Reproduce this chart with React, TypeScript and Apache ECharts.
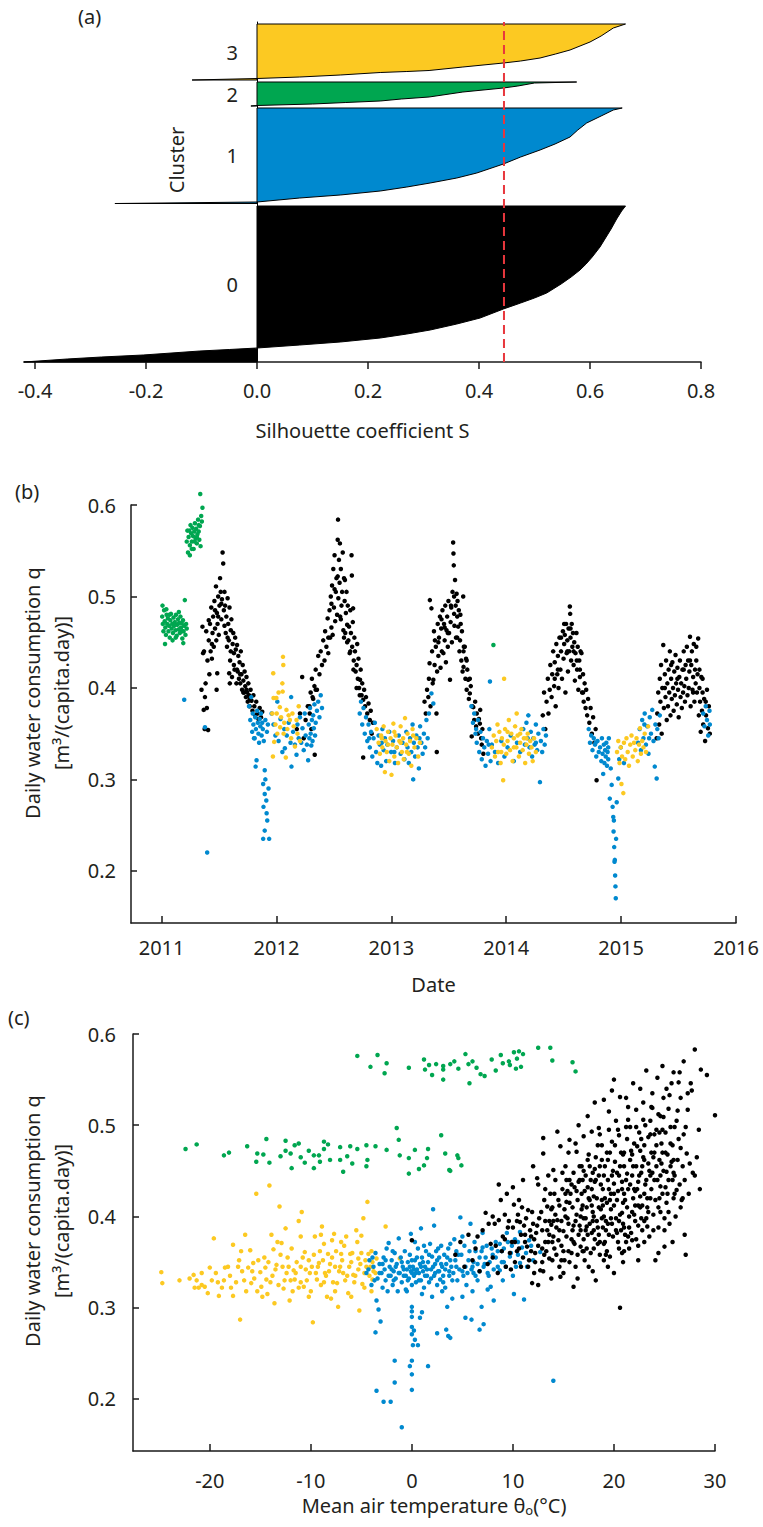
import React, { useEffect, useRef } from "react";
import * as echarts from "echarts";

// ---------------- Panel (a): silhouette profiles [S, rank position] ----------------
const clusterNames = ["0", "1", "2", "3"];
const clusterColors = ["#000000", "#0089cf", "#00a650", "#fcc922"];
const silhouette0 = [[0.664,156],[0.657,151],[0.648,143],[0.638,133],[0.628,124],[0.618,115],[0.604,105],[0.593,98],[0.582,92],[0.566,85],[0.548,78],[0.522,69],[0.50,64],[0.475,59],[0.444,53],[0.402,44],[0.36,38],[0.312,32],[0.27,28],[0.222,24],[0.15,20],[0.077,17],[0.0,14],[-0.05,12.5],[-0.103,11],[-0.205,7],[-0.28,5],[-0.342,3],[-0.42,0]];
const silhouette1 = [[0.658,254],[0.642,252],[0.62,246],[0.594,239],[0.578,232],[0.564,225],[0.537,218],[0.51,212],[0.475,205],[0.444,198],[0.396,189],[0.36,184],[0.312,179],[0.27,175],[0.222,171],[0.15,167],[0.077,164],[0.0,160],[-0.256,158.5]];
const silhouette2 = [[0.576,280],[0.50,279],[0.47,276],[0.444,274],[0.371,270],[0.31,265],[0.26,263],[0.222,261],[0.16,259.5],[0.10,258],[0.0,256.5],[-0.011,256]];
const silhouette3 = [[0.664,338],[0.642,334],[0.62,326],[0.60,320],[0.582,316],[0.564,312],[0.538,308],[0.51,304],[0.475,301],[0.444,299],[0.371,295],[0.31,291.5],[0.27,290.5],[0.222,289.5],[0.15,287],[0.077,285],[0.0,283.5],[-0.117,282]];
const meanSilhouette = 0.445;
const silhouetteTicks = [-0.4, -0.2, 0, 0.2, 0.4, 0.6, 0.8];

// ---------------- Panel (b): [day since 2011-01-01, q in L/(capita.day)] ----------------
const dateCluster0 = [
[127,398],[130,467],[132,438],[134,376],[135,440],[137,355],[138,390],[140,405],[142,462],[144,378],[146,430],[148,354],[150,452],[152,415],[154,470],[156,440],[158,488],[160,432],[162,460],[164,478],[166,445],[168,495],[170,465],[173,511],[174,452],[175,398],[176,482],[177,416],[178,470],[180,500],[182,458],[184,490],[186,520],[188,505],[190,475],[192,497],[194,548],[196,536],[198,485],[200,505],[202,490],[204,460],[206,478],[208,445],[210,498],[212,470],[214,452],[215,416],[216,488],[217,405],[218,430],[220,463],[222,475],[224,412],[226,448],[228,460],[230,438],[232,420],[234,455],[236,442],[238,405],[240,447],[242,418],[244,435],[246,410],[248,428],[250,405],[252,440],[254,415],[256,398],[258,425],[260,408],[262,395],[264,418],[266,402],[268,390],[270,412],[272,395],[274,385],[276,405],[278,392],[280,380],[283,398],[286,386],[289,375],[292,392],[295,380],[298,370],[301,385],[305,372],[308,366],[312,378],[316,368],[320,374],
[150,474],[160,448],[170,485],[180,478],[190,492],[200,468],[210,455],[220,440],[230,425],[240,420],[250,415],[260,395],[270,398],[280,388],
[430,355],[440,372],[447,412],[452,345],[458,365],[465,380],[471,372],[476,355],[480,390],[487,327],[490,398],
[470,380],[474,395],[478,410],[482,388],[486,402],[490,420],[494,398],[498,435],[502,415],[506,440],[510,425],[514,452],[518,430],[520,462],[524,445],[528,476],[530,438],[534,485],[536,455],[538,500],[540,466],[542,512],[544,458],[546,530],[548,488],[550,545],[552,473],[554,505],[556,520],[558,480],[560,562],[561,584],[562,498],[564,540],[566,515],[567,558],[568,478],[570,530],[572,490],[574,505],[576,548],[578,463],[580,520],[582,495],[583,518],[584,460],[586,482],[588,505],[590,450],[592,490],[594,452],[596,467],[598,438],[600,485],[602,460],[604,545],[605,523],[606,445],[608,472],[609,487],[611,430],[613,455],[615,440],[617,418],[620,425],[622,448],[624,410],[626,432],[628,400],[631,409],[633,420],[636,392],[638,405],[641,387],[644,398],[647,380],[650,390],[654,372],[658,383],[662,365],[665,375],[668,350],[672,362],[641,324],
[530,455],[540,492],[550,508],[560,522],[570,475],[580,455],[590,469],[600,440],[610,420],[620,400],[630,392],
[836,385],[840,372],[844,398],[848,390],[850,410],[852,427],[853,496],[855,380],[858,487],[860,440],[862,405],[864,409],[866,462],[868,425],[869,452],[872,445],[874,372],[875,330],[876,418],[878,470],[880,435],[882,455],[885,478],[887,422],[889,465],[891,440],[893,485],[896,438],[898,470],[900,452],[902,490],[904,428],[906,463],[908,478],[910,445],[912,495],[914,460],[917,409],[919,472],[921,488],[923,450],[925,505],[927,559],[928,547],[929,534],[930,481],[931,468],[933,518],[935,490],[936,455],[938,503],[940,478],[941,495],[943,467],[945,485],[947,440],[949,452],[951,470],[953,430],[955,462],[957,418],[959,500],[960,423],[961,445],[964,445],[966,410],[968,432],[970,398],[972,420],[975,409],[977,388],[980,394],[983,402],[986,347],[988,380],[991,379],[994,365],[997,385],[1000,358],[1002,372],[1006,350],[1009,366],[1012,361],[1013,376],[1016,345],[1020,355],[1023,328],[1018,338],
[880,450],[890,475],[900,466],[910,460],[920,490],[930,500],[940,455],[950,480],[960,440],[970,430],[980,410],
[1212,370],[1216,395],[1220,355],[1224,385],[1228,410],[1230,372],[1234,398],[1236,425],[1240,390],[1242,415],[1245,440],[1248,402],[1250,428],[1253,380],[1255,448],[1258,415],[1260,435],[1262,400],[1265,455],[1268,420],[1270,440],[1273,410],[1276,462],[1278,432],[1280,448],[1282,458],[1284,395],[1286,470],[1288,438],[1290,452],[1292,418],[1294,465],[1296,440],[1298,489],[1299,481],[1300,455],[1302,430],[1304,470],[1306,445],[1308,460],[1310,425],[1312,450],[1314,408],[1316,438],[1319,460],[1321,420],[1323,445],[1325,398],[1328,430],[1330,412],[1332,440],[1335,438],[1337,395],[1340,415],[1342,385],[1345,405],[1348,378],[1350,398],[1353,370],[1356,388],[1360,362],[1364,378],[1368,350],[1372,368],[1376,340],[1380,355],[1383,299],
[1250,410],[1260,420],[1270,455],[1280,470],[1290,440],[1300,465],[1310,440],[1320,430],[1330,420],[1340,395],
[1574,345],[1576,372],[1579,395],[1582,360],[1584,410],[1586,385],[1588,425],[1590,350],[1592,400],[1595,447],[1597,378],[1600,415],[1602,390],[1604,430],[1606,365],[1608,405],[1610,380],[1612,420],[1614,395],[1616,440],[1618,370],[1620,410],[1622,388],[1624,428],[1626,400],[1628,375],[1630,418],[1632,392],[1634,436],[1636,405],[1638,382],[1640,422],[1642,398],[1644,368],[1646,412],[1648,430],[1650,390],[1652,405],[1654,378],[1656,420],[1658,395],[1660,440],[1662,402],[1664,385],[1666,425],[1668,410],[1670,445],[1672,392],[1674,430],[1676,400],[1678,418],[1680,456],[1682,380],[1684,425],[1686,440],[1688,398],[1690,412],[1692,448],[1694,385],[1696,420],[1698,405],[1700,430],[1702,395],[1704,415],[1706,454],[1708,370],[1710,400],[1712,385],[1714,352],[1716,412],[1718,375],[1720,395],[1722,360],[1725,388],[1728,342],[1731,370],[1734,398],[1737,356],[1740,380],[1743,350],
[1600,400],[1620,425],[1640,410],[1660,420],[1680,430],[1690,395],[1700,445],[1710,420],[1720,410],[1730,385]
];
const dateCluster1 = [
[72,387],[138,357],[145,220],
[278,380],[282,365],[285,390],[288,352],[290,372],[292,360],[294,345],[296,345],[298,368],[299,314],[300,355],[302,321],[304,375],[306,362],[308,350],[310,340],[312,366],[314,358],[316,372],[318,348],[320,362],[322,355],[323,295],[324,270],[323,235],[325,342],[328,310],[328,284],[328,244],[330,365],[333,277],[334,263],[335,352],[336,255],[338,360],[342,235],[340,290],[330,300],
[350,372],[356,360],[362,348],[368,385],[372,342],[378,366],[384,330],[390,355],[392,334],[398,348],[404,362],[410,340],[412,390],[413,314],[418,352],[424,338],[429,327],[432,360],[436,345],[440,368],[444,340],[448,356],[452,332],[455,372],[458,348],[462,338],[466,321],[468,360],[470,345],[472,378],[474,350],[476,337],[478,365],[480,342],[482,370],[484,356],[486,382],[488,348],[490,362],[494,375],[498,385],[502,368],[506,392],[510,378],
[630,372],[634,385],[638,360],[642,378],[646,350],[650,368],[654,342],[658,360],[662,335],[666,352],[670,325],[674,345],[678,362],[682,330],[686,318],[690,348],[694,338],[698,315],[702,355],[706,332],[710,345],[714,320],[718,338],[724,352],[730,330],[736,342],[742,318],[748,335],[754,348],[760,328],[766,340],[772,322],[778,352],[782,335],[786,318],[790,345],[794,330],[798,360],[802,340],[806,325],[810,348],[814,335],[818,312],[822,358],[826,340],[830,328],[834,350],[838,335],[842,365],[846,345],[850,372],[858,394],[864,383],[800,300],
[660,345],[700,340],[740,330],[820,345],
[985,380],[990,362],[994,372],[998,350],[1002,340],[1006,365],[1010,330],[1014,352],[1018,322],[1022,345],[1026,335],[1030,315],[1034,342],[1038,328],[1042,355],[1044,407],[1046,320],[1050,338],[1060,330],[1070,318],[1080,342],[1090,325],[1100,335],[1110,348],[1120,320],[1130,340],[1140,330],[1150,355],[1155,338],[1160,362],[1164,345],[1166,370],[1170,335],[1174,352],[1178,325],[1182,345],[1186,338],[1190,360],[1194,332],[1198,350],[1203,297],[1206,342],[1210,330],[1214,355],[1218,338],[1222,348],
[1000,355],[1040,338],[1190,340],
[1358,355],[1362,340],[1366,348],[1370,332],[1374,345],[1378,338],[1382,325],[1386,342],[1390,330],[1394,335],[1398,320],[1400,345],[1402,328],[1404,306],[1406,338],[1408,318],[1410,332],[1412,325],[1414,340],[1416,315],[1418,330],[1420,322],[1422,345],[1425,279],[1428,312],[1431,294],[1434,270],[1436,259],[1437,243],[1438,255],[1439,226],[1441,212],[1440,210],[1442,195],[1443,183],[1444,170],[1445,235],[1447,275],[1452,301],[1455,322],[1460,335],[1470,318],
[1380,340],[1420,335],
[1515,340],[1520,355],[1524,332],[1528,365],[1532,345],[1536,372],[1540,338],[1544,358],[1548,328],[1552,368],[1556,350],[1560,376],[1564,342],[1568,314],[1570,360],[1574,301],[1576,355],[1580,345],[1584,370],[1535,360],[1550,345],
[1722,372],[1726,358],[1730,380],[1734,365],[1738,348],[1742,375],[1743,360]
];
const dateCluster2 = [
[2,478],[3,490],[4,470],[6,462],[8,485],[10,473],[11,448],[12,466],[14,458],[15,486],[16,480],[18,470],[20,476],[22,462],[24,468],[25,480],[26,455],[28,474],[30,481],[32,465],[34,470],[35,452],[36,460],[38,477],[40,468],[42,472],[44,463],[45,455],[46,480],[48,457],[50,469],[52,475],[54,464],[55,483],[56,471],[58,460],[60,478],[62,466],[64,471],[65,462],[66,454],[68,474],[69,449],[70,462],[72,468],[74,496],[76,458],[78,470],[80,465],
[80,560],[82,572],[84,548],[86,565],[88,572],[90,556],[90,545],[92,578],[94,569],[96,560],[96,552],[98,575],[100,566],[102,552],[104,571],[105,560],[106,580],[108,563],[110,574],[112,558],[112,565],[114,568],[116,584],[118,571],[118,578],[120,562],[122,577],[123,612],[124,555],[126,588],[128,582],[130,597],
[1055,447]
];
const dateCluster3 = [
[352,372],[355,416],[356,389],[354,325],[358,341],[362,360],[365,389],[366,372],[368,350],[372,395],[376,379],[377,357],[380,368],[384,405],[386,434],[387,425],[385,396],[388,350],[390,362],[395,324],[397,376],[400,355],[404,370],[408,365],[412,345],[416,372],[420,358],[424,336],[429,365],[432,350],[436,380],[440,342],
[684,355],[690,340],[694,328],[698,348],[702,335],[706,358],[710,308],[712,342],[716,330],[720,352],[724,320],[728,345],[731,305],[734,338],[737,361],[740,325],[744,348],[748,335],[752,318],[756,342],[760,358],[764,330],[768,345],[770,322],[774,367],[778,338],[782,350],[786,328],[790,342],[794,315],[798,355],[804,335],[810,345],[816,325],[821,340],
[700,345],[720,338],[740,352],[760,340],[780,330],[800,348],
[1050,335],[1056,348],[1060,325],[1064,342],[1068,360],[1070,330],[1074,352],[1078,318],[1082,345],[1086,299],[1088,338],[1089,410],[1092,355],[1096,328],[1100,342],[1104,365],[1108,332],[1112,350],[1116,320],[1120,345],[1124,358],[1128,335],[1129,372],[1132,348],[1136,325],[1140,340],[1144,355],[1148,332],[1152,345],[1156,318],[1160,338],[1164,350],[1168,328],[1172,342],[1176,335],[1180,320],[1184,345],[1190,330],
[1080,330],[1100,352],[1120,335],[1140,350],[1160,345],
[1448,330],[1452,342],[1456,318],[1460,335],[1462,295],[1464,325],[1468,285],[1470,340],[1474,322],[1478,345],[1482,330],[1486,315],[1490,338],[1494,348],[1498,325],[1502,340],[1506,332],[1510,345],[1514,320],[1518,338],[1521,356],[1524,328],[1528,342],[1532,335],[1536,350],[1540,330],[1547,358]
];
const yearTicks = [2011, 2012, 2013, 2014, 2015, 2016];
const qTicks = [0.2, 0.3, 0.4, 0.5, 0.6];

// ---------------- Panel (c): [mean air temperature °C, q in L/(capita.day)] ----------------
const tempCluster0 = [
[0.0,374],[4.3,358],[4.8,372],[5.2,345],[5.6,380],[6.0,352],[6.3,365],[6.7,340],[7.0,385],[7.3,404],[7.5,348],[7.8,370],[8.0,355],[8.2,392],[8.5,338],[8.6,435],[8.6,396],[8.9,362],
[9.0,378],[9.2,402],[9.3,345],[9.5,388],[9.7,360],[9.9,372],[10.1,413],[10.2,350],[10.4,395],[10.6,418],[10.6,365],[10.7,394],[10.8,380],[11.0,440],[11.0,355],[11.2,372],[11.3,398],[11.5,407],[11.5,345],[11.7,385],[11.8,362],[11.9,327],[12.0,392],[12.1,375],
[12.2,350],[12.4,442],[12.5,435],[12.5,368],[12.7,341],[12.8,405],[12.9,385],[13.0,469],[13.1,358],[13.2,395],[13.4,411],[13.5,372],[13.6,380],[13.7,425],[13.8,391],[13.9,352],[14.0,451],[14.1,365],[14.2,402],[14.3,388],[14.5,374],[14.5,418],[14.6,345],[14.7,477],[14.7,334],[14.8,395],[14.9,430],
[15.0,362],[15.1,408],[15.2,455],[15.3,416],[15.3,378],[15.5,470],[15.5,392],[15.6,350],[15.7,425],[15.8,435],[15.9,385],[16.0,323],[16.0,448],[16.1,370],[16.3,471],[16.3,402],[16.4,358],[16.5,438],[16.6,390],[16.7,367],[16.8,455],[16.9,412],[17.0,488],[17.0,375],[17.1,428],[17.2,398],[17.3,389],[17.4,462],[17.5,345],[17.6,418],[17.7,440],[17.8,493],[17.8,382],[17.9,405],
[18.0,422],[18.0,365],[18.1,452],[18.2,330],[18.3,395],[18.4,478],[18.5,497],[18.5,410],[18.6,372],[18.7,435],[18.8,462],[18.9,388],[19.0,400],[19.0,445],[19.1,420],[19.2,358],[19.3,470],[19.4,392],[19.5,515],[19.5,430],[19.6,356],[19.7,408],[19.8,482],[19.9,378],[20.0,550],[20.0,436],[20.0,338],[20.1,460],[20.2,398],[20.3,418],[20.4,372],[20.5,489],[20.5,445],[20.6,531],[20.6,300],[20.7,385],[20.8,404],[20.9,468],
[21.0,425],[21.1,380],[21.2,498],[21.3,447],[21.3,410],[21.4,506],[21.5,365],[21.6,435],[21.7,472],[21.8,374],[21.9,546],[21.9,455],[22.0,402],[22.1,428],[22.2,517],[22.3,477],[22.4,390],[22.5,445],[22.6,422],[22.7,485],[22.8,412],[22.9,506],[23.0,462],[23.1,435],[23.2,398],[23.3,389],[23.4,487],[23.5,450],[23.6,420],[23.7,470],[23.8,535],[23.8,519],[23.9,465],[24.0,440],
[24.1,352],[24.2,478],[24.3,552],[24.4,410],[24.5,492],[24.6,433],[24.7,458],[24.8,495],[24.9,509],[25.0,367],[25.1,470],[25.2,449],[25.3,425],[25.5,533],[25.6,480],[25.7,546],[25.8,440],[25.9,558],[25.9,462],[26.0,498],[26.2,429],[26.3,516],[26.4,547],[26.5,558],[26.6,475],[26.7,418],[26.9,490],[27.1,358],[27.2,469],[27.3,517],[27.5,458],[27.6,546],[27.7,538],[28.0,583],[28.4,495],[28.6,561],[30.0,511],
[10.0,388],[10.2,372],[10.5,402],[10.8,345],[11.1,390],[11.4,367],[11.6,352],[11.9,405],[12.1,338],[12.3,382],[12.6,398],[12.9,350],[13.1,418],[13.3,362],[13.6,395],[13.9,372],[10.9,410],[12.2,360],[13.0,340],[11.8,378],
[13.2,430],[13.4,385],[13.6,354],[13.8,408],[14.0,378],[14.2,440],[14.3,358],[14.4,396],[14.6,412],[14.8,368],[14.9,448],[15.0,384],[15.1,352],[15.2,425],[15.4,398],[15.5,362],[15.6,440],[15.8,375],[15.9,410],[16.0,390],[16.1,432],[16.2,345],[16.4,418],[16.5,380],[16.6,455],[16.7,400],[16.9,362],[15.3,440],[14.1,425],[13.5,445],
[16.8,425],[17.0,398],[17.1,352],[17.2,445],[17.3,410],[17.4,380],[17.5,468],[17.6,392],[17.7,360],[17.8,430],[17.9,448],[18.0,400],[18.1,375],[18.2,465],[18.3,420],[18.4,388],[18.5,445],[18.6,358],[18.7,408],[18.8,478],[18.9,430],[19.0,370],[19.1,455],[19.2,395],[19.3,415],[19.4,440],[19.5,380],[19.6,470],[19.7,425],[19.8,392],[19.9,450],[17.2,385],[18.1,438],[18.9,412],[17.6,455],[16.9,440],[19.3,362],[18.4,370],
[20.0,412],[20.1,478],[20.2,385],[20.3,448],[20.4,428],[20.5,365],[20.6,402],[20.7,470],[20.8,438],[20.9,392],[21.0,455],[21.1,418],[21.2,372],[21.3,485],[21.4,430],[21.5,400],[21.6,462],[21.7,382],[21.8,445],[21.9,420],[22.0,480],[22.1,395],[22.2,455],[22.3,430],[22.4,368],[22.5,492],[22.6,410],[22.7,448],[22.8,385],[22.9,465],[23.0,425],[23.1,500],[23.2,440],[23.3,410],[23.4,458],[23.5,378],[23.6,490],[23.7,430],[23.8,448],[23.9,402],[20.4,495],[21.0,388],[21.8,405],[22.6,472],[20.8,360],[21.6,498],[22.2,375],[23.0,395],
[24.0,470],[24.1,418],[24.2,495],[24.3,440],[24.4,388],[24.5,462],[24.6,405],[24.7,480],[24.8,425],[24.9,450],[25.0,398],[25.1,492],[25.2,415],[25.3,468],[25.4,440],[25.5,392],[25.6,455],[25.8,478],[25.9,420],[26.0,445],[26.1,400],[26.3,462],[26.5,435],[26.6,410],[26.8,455],[27.0,440],[27.4,425],[27.8,448],[24.6,510],[25.4,518],[26.2,505],[27.1,498],[28.2,465],[23.7,520],[24.9,530],
[8.0,400],[8.8,418],[9.4,425],[10.0,432],[9.2,375],[9.8,342],[8.3,368],[7.6,392],[6.5,378],[12.0,455],[13.0,486],[14.4,493],[15.6,484],[16.5,500],[17.4,510],[18.1,525],[19.0,528],[19.8,538],[21.2,530],[22.6,540],[23.2,560],[24.8,565],[25.2,540],[26.9,570],[27.3,535],[29.2,555],[12.5,325],[13.8,332],[15.0,338],[16.4,332],[17.9,340],[19.4,345],[20.9,350],[22.4,352],[24.4,360],[25.8,372],[27.0,380],[28.0,445],[28.5,430],
[15.2,400],[15.6,415],[16.0,372],[16.3,428],[16.7,385],[17.0,450],[17.3,365],[17.5,420],[17.9,395],[18.2,440],[18.5,380],[18.8,418],[19.1,372],[19.4,462],[19.7,398],[20.0,425],[20.3,382],[20.6,455],[20.9,415],[21.2,440],[21.5,388],[21.8,468],[22.1,412],[22.4,438],[22.7,398],[23.0,478],[23.3,420],[23.6,445],[23.9,385],[24.2,455],[24.5,420],[24.8,470],[25.1,432],[25.4,405],[25.7,460],[26.0,425],[26.4,485],[26.8,420],[16.2,395],[17.4,432],[18.6,455],[19.8,445],[21.0,470],[22.0,430],[23.4,405],[24.0,490],[19.2,385],[20.5,395],[21.4,378],[22.8,455],[18.0,385],[16.8,408],[15.8,360],[14.6,385],[13.9,410],[12.9,365],[14.8,352],[17.0,362],[19.0,352],[21.0,362],[23.0,372],[25.0,385],[20.2,505],[22.2,498],[24.4,512],[18.6,490],[16.2,480],[21.4,520],[23.6,505],[25.6,498],[26.6,530],[19.6,418],[20.8,430],[22.4,412],[17.8,412],[18.8,398],[24.6,445],[25.9,448],[14.0,395],[13.2,372],[12.4,390],[11.2,380],[10.4,362],[9.6,395],[15.4,428],[16.6,440],[19.5,495],[22.9,525]
];
const tempCluster1 = [
[-4.5,338],[-4.2,352],[-4.0,325],[-3.8,345],[-3.6,360],[-3.5,308],[-3.4,332],[-3.3,298],[-3.2,348],[-3.1,285],[-3.0,338],[-2.9,322],[-2.8,355],[-2.7,342],[-2.6,330],[-2.5,365],[-2.4,318],[-2.3,371],[-2.2,345],[-2.1,335],[-2.0,352],[-1.9,325],[-1.8,340],[-1.7,360],[-1.6,332],[-1.5,348],[-1.4,318],[-1.3,376],[-1.2,338],[-1.1,355],[-1.0,328],[-0.9,345],[-0.8,335],[-0.7,362],[-0.6,320],[-0.5,342],[-0.4,350],[-0.3,332],[-0.2,358],[-0.1,381],[-0.1,340],[0.0,325],[0.1,345],[0.2,335],[0.3,352],[0.4,328],[0.5,342],[0.6,365],[0.7,338],[0.8,348],[0.9,387],[0.9,330],[1.0,355],[1.1,340],[1.2,322],[1.3,345],[1.4,362],[1.5,335],[1.6,350],[1.7,328],[1.8,370],[1.9,342],[2.0,356],[2.1,408],[2.2,390],[2.2,335],[2.3,348],[2.4,362],[2.5,325],[2.6,340],[2.7,355],[2.8,331],[2.9,368],[3.0,345],[3.1,335],[3.2,358],[3.3,322],[3.4,348],[3.5,301],[3.6,365],[3.7,340],[3.8,352],[4.0,330],[4.2,375],[4.4,345],[4.6,358],[4.8,399],[5.0,340],[5.2,368],[5.4,325],[5.6,352],[5.8,392],[6.0,345],[6.1,338],[6.3,362],[6.5,330],[6.7,355],[6.9,301],[7.0,382],[7.2,348],[7.4,368],[7.6,335],[7.8,323],[8.0,358],[8.1,308],[8.3,372],[8.5,345],[8.7,341],[8.9,362],[9.1,350],[9.4,382],[9.7,356],[9.9,368],[10.1,315],[10.3,345],[10.5,372],[10.7,383],[10.7,349],[11.1,309],[11.3,360],[11.6,374],[12.0,352],[12.7,361],
[-4.3,342],[-3.9,355],[-3.7,330],[-3.2,338],[-2.9,348],[-2.6,352],[-2.3,335],[-2.0,342],[-1.8,330],[-1.6,345],[-1.3,338],[-1.0,350],[-0.8,342],[-0.6,335],[-0.4,330],[-0.2,345],[0.0,338],[0.0,352],[0.2,342],[0.4,338],[0.5,355],[0.7,330],[0.9,345],[1.1,350],[1.3,335],[1.5,342],[1.7,358],[1.9,332],[2.1,345],[2.3,338],[2.5,352],[2.7,340],[2.9,348],[3.1,328],[3.3,342],[3.5,355],[3.7,335],[3.9,345],[4.1,338],[4.3,352],[4.5,330],[4.7,342],[4.9,358],[5.1,335],[5.3,345],[5.5,338],[5.7,362],[5.9,342],[6.1,350],[6.3,335],[6.5,348],[6.7,340],[6.9,362],[7.1,345],[7.3,355],[7.5,338],[7.7,350],[7.9,365],[8.1,342],[8.3,355],[8.5,362],[8.7,370],[8.9,350],[9.1,365],[9.3,345],[9.5,372],[9.8,360],[10.2,375],[10.5,358],[10.9,366],[11.4,345],[11.8,368],[-1.9,362],[0.3,372],[1.2,368],[2.6,365],[3.8,370],[4.4,362],[5.0,378],[6.2,372],[7.0,366],[-0.5,318],[1.0,315],[2.0,312],[3.0,318],[4.0,310],[5.0,312],[6.0,318],[7.5,320],[9.0,330],[10.0,335],
[0.0,301],[0.0,296],[0.0,290],[0.0,279],[0.2,275],[0.0,271],[0.3,265],[0.1,259],[0.6,259],[0.0,242],[-0.2,236],[0.0,227],[0.0,210],[1.6,236],[1.0,295],[0.8,289],[2.5,272],[3.6,269],[-3.5,209],[-2.8,197],[-2.1,197],[-1.7,242],[-1.7,218],[-1.0,169],[-3.6,273],[3.8,267],[3.4,276],[5.3,289],[5.9,287],[6.7,276],[7.1,282],[14.0,220]
];
const tempCluster2 = [
[-5.4,576],[-3.4,577],[-4.1,564],[-2.5,568],[-2.7,557],[-0.3,563],[1.2,572],[1.7,566],[1.3,561],[2.0,555],[2.4,567],[3.1,565],[3.1,561],[3.1,550],[3.8,567],[4.6,562],[5.3,578],[5.6,567],[5.7,546],[6.0,570],[6.8,556],[7.2,554],[7.9,572],[8.3,560],[8.8,577],[9.6,570],[9.7,566],[10.1,580],[10.6,581],[10.4,573],[11.0,578],[10.3,562],[10.8,564],[12.5,585],[13.7,585],[13.9,571],[15.9,569],[16.2,559],[4.2,570],[6.4,563],[9.0,568],
[-22.4,474],[-21.3,479],[-18.6,467],[-18.1,470],[-16.3,477],[-15.4,460],[-15.3,469],[-14.7,468],[-14.4,485],[-14.1,459],[-12.5,483],[-12.5,472],[-12.0,469],[-11.9,453],[-11.6,478],[-11.2,480],[-11.0,465],[-10.6,459],[-9.7,467],[-9.7,453],[-9.2,467],[-9.1,460],[-8.7,482],[-8.3,479],[-8.7,474],[-8.1,462],[-7.1,476],[-7.1,462],[-6.8,449],[-6.4,466],[-6.1,477],[-5.9,458],[-5.4,474],[-4.5,478],[-4.4,462],[-4.5,455],[-3.6,477],[-2.5,473],[-1.5,497],[-1.3,484],[-1.2,467],[-0.3,464],[-0.3,447],[0.3,473],[0.7,452],[1.2,456],[1.5,464],[1.6,474],[2.9,489],[3.3,469],[3.7,451],[4.5,467],[4.6,464],[4.9,456],[3.8,450],[-10.2,472],[-13.0,466]
];
const tempCluster3 = [
[-24.8,339],[-24.7,327],[-21.6,336],[-21.3,330],[-21.5,322],[-21.1,322],[-20.2,316],[-20.0,344],[-20.5,323],[-19.6,376],[-19.1,313],[-19.2,328],[-18.5,344],[-18.2,345],[-17.7,313],[-17.7,369],[-17.2,345],[-17.0,287],[-16.5,380],[-16.2,344],[-16.0,363],[-15.9,327],[-15.7,349],[-15.4,425],[-15.0,339],[-14.9,323],[-14.5,344],[-14.4,331],[-14.1,434],[-13.9,380],[-13.7,364],[-13.6,305],[-13.4,347],[-13.1,411],[-12.9,371],[-12.7,321],[-12.5,387],[-12.4,338],[-12.1,308],[-11.9,365],[-11.7,341],[-11.6,331],[-11.2,395],[-11.0,345],[-10.9,405],[-10.7,323],[-10.6,361],[-10.2,352],[-10.1,338],[-9.8,284],[-9.6,378],[-9.4,331],[-9.2,349],[-8.9,389],[-8.7,370],[-8.6,338],[-8.4,312],[-8.3,359],[-7.9,374],[-7.7,381],[-7.6,345],[-7.4,327],[-7.3,301],[-7.0,359],[-6.8,338],[-6.5,378],[-6.3,316],[-6.1,359],[-5.8,336],[-5.4,372],[-5.3,354],[-5.2,297],[-5.0,379],[-4.8,398],[-4.7,338],[-4.4,416],[-4.3,359],[-4.1,345],[-3.9,331],[-3.6,338],[-3.5,354],[-2.6,389],[-1.2,354],
[-22.0,332],[-20.8,338],[-19.8,330],[-18.8,322],[-18.0,335],[-17.4,328],[-16.8,340],[-16.4,318],[-15.6,332],[-15.2,352],[-14.8,312],[-14.2,350],[-13.8,335],[-13.2,325],[-12.8,345],[-12.3,355],[-11.8,318],[-11.4,350],[-11.0,328],[-10.5,342],[-10.0,318],[-9.7,358],[-9.3,345],[-9.0,325],[-8.8,352],[-8.5,335],[-8.1,348],[-7.8,328],[-7.5,362],[-7.2,340],[-6.9,352],[-6.6,330],[-6.2,345],[-5.9,360],[-5.6,335],[-5.1,348],[-4.9,326],[-4.6,352],[-4.0,362],[-3.8,340],
[-23.0,330],[-19.4,338],[-17.9,322],[-17.1,352],[-16.6,330],[-15.8,340],[-15.3,318],[-14.6,355],[-14.0,328],[-13.5,342],[-13.0,358],[-12.6,330],[-12.2,345],[-11.5,338],[-11.2,322],[-10.8,355],[-10.4,330],[-9.9,345],[-9.5,338],[-9.1,362],[-8.7,328],[-8.2,340],[-7.9,355],[-7.6,318],[-7.1,345],[-6.7,368],[-6.4,335],[-6.0,350],[-5.7,328],[-5.3,342],[-5.0,360],[-4.7,322],[-4.5,345],[-4.2,335],[-3.9,350],[-13.3,372],[-11.0,378],[-9.0,380],[-7.0,372],[-5.5,385],[-16.9,362],[-14.3,315],[-10.2,312],[-8.0,310],[-6.0,312],[-18.6,330],[-20.8,325],[-12.0,330],[-4.0,318]
];
const tempTicks = [-20, -10, 0, 10, 20, 30];

// ---------------- styling ----------------
const FONT = "Noto Sans";
const TXT = "#231f20";
const AXIS = "#1a1a1a";
const DOT = 4.5;

const toDate = (arr: number[][]) => arr.map(([d, l]) => [2011 + d / 365.25, l / 1000]);
const toTemp = (arr: number[][]) => arr.map(([t, l]) => [t, l / 1000]);

const silhouettes = [silhouette0, silhouette1, silhouette2, silhouette3];
const clusterMid = silhouettes.map((p) => (p[0][1] + p[p.length - 1][1]) / 2);
const S_MIN = -0.42;
const S_MAX = 0.8;
const GRID_A_WIDTH = 677.1;

export default function App() {
  const ref = useRef<HTMLDivElement>(null);
  useEffect(() => {
    if (!ref.current) return;
    const chart = echarts.init(ref.current, null, { renderer: "svg" });
    const label = { color: TXT, fontFamily: FONT, fontSize: 20 };
    const axisLine = { onZero: false, lineStyle: { color: AXIS, width: 1.5 } };

    const silhouetteSeries = silhouettes.map((prof, i) => ({
      type: "custom",
      name: "cluster " + clusterNames[i],
      xAxisIndex: 0,
      yAxisIndex: 0,
      data: [[0, prof[0][1]]],
      z: 2,
      renderItem: (_p: any, api: any) => {
        const top = prof[0][1];
        const bottom = prof[prof.length - 1][1];
        const pts = [api.coord([0, top])];
        prof.forEach((p) => pts.push(api.coord(p)));
        pts.push(api.coord([0, bottom]));
        return {
          type: "polygon",
          shape: { points: pts },
          style: { fill: clusterColors[i], stroke: "#000", lineWidth: 1 },
        };
      },
    }));

    const scatter = (data: number[][], color: string, xi: number) => ({
      type: "scatter",
      xAxisIndex: xi,
      yAxisIndex: xi,
      data,
      clip: false,
      symbolSize: DOT,
      itemStyle: { color, opacity: 1 },
      silent: true,
    });

    // offset that brings the cluster axis of panel (a) onto S = 0
    const zeroOffset = -((0 - S_MIN) / (S_MAX - S_MIN)) * GRID_A_WIDTH;

    const option: any = {
      animation: false,
      textStyle: { fontFamily: FONT },
      grid: [
        { left: 23.9, top: 22, width: GRID_A_WIDTH, height: 340, outerBoundsMode: "none", containLabel: false },
        { left: 131, top: 505, width: 605, height: 418, outerBoundsMode: "none", containLabel: false },
        { left: 133, top: 1034, width: 582, height: 417, outerBoundsMode: "none", containLabel: false },
      ],
      xAxis: [
        {
          gridIndex: 0, type: "value", min: S_MIN, max: S_MAX,
          axisLine,
          axisTick: { customValues: silhouetteTicks, length: 7, lineStyle: { color: AXIS, width: 1.5 } },
          axisLabel: { ...label, customValues: silhouetteTicks, margin: 18, formatter: (v: number) => v.toFixed(1) },
          splitLine: { show: false },
          name: "Silhouette coefficient S", nameLocation: "middle", nameGap: 58,
          nameTextStyle: label,
        },
        {
          gridIndex: 1, type: "value", min: 2010.734, max: 2016,
          axisLine,
          axisTick: { inside: true, customValues: yearTicks, length: 7, lineStyle: { color: AXIS, width: 1.5 } },
          axisLabel: { ...label, customValues: yearTicks, margin: 14, formatter: (v: number) => String(Math.round(v)) },
          splitLine: { show: false },
          name: "Date", nameLocation: "middle", nameGap: 51, nameTextStyle: label,
        },
        {
          gridIndex: 2, type: "value", min: -27.6, max: 30,
          axisLine,
          axisTick: { inside: true, customValues: tempTicks, length: 7, lineStyle: { color: AXIS, width: 1.5 } },
          axisLabel: { ...label, customValues: tempTicks, margin: 19, formatter: (v: number) => String(Math.round(v)) },
          splitLine: { show: false },
          name: "Mean air temperature θₒ(°C)", nameLocation: "middle", nameGap: 44,
          nameTextStyle: { ...label, padding: [0, 0, 0, 20] },
        },
      ],
      yAxis: [
        {
          gridIndex: 0, type: "value", min: 0, max: 340,
          offset: zeroOffset,
          axisLine: { show: true, onZero: false, lineStyle: { color: "#000", width: 1 } },
          axisTick: { show: false },
          axisLabel: {
            ...label, customValues: clusterMid, margin: 19,
            formatter: (v: number) => {
              const k = clusterMid.findIndex((m) => Math.abs(m - v) < 0.01);
              return k >= 0 ? clusterNames[k] : "";
            },
          },
          splitLine: { show: false },
        },
        {
          gridIndex: 1, type: "value", min: 0.143, max: 0.6,
          axisLine,
          axisTick: { inside: true, customValues: qTicks, length: 6, lineStyle: { color: AXIS, width: 1.5 } },
          axisLabel: { ...label, customValues: qTicks, margin: 15, formatter: (v: number) => v.toFixed(1) },
          splitLine: { show: false },
        },
        {
          gridIndex: 2, type: "value", min: 0.143, max: 0.6,
          axisLine,
          axisTick: { inside: true, customValues: qTicks, length: 6, lineStyle: { color: AXIS, width: 1.5 } },
          axisLabel: { ...label, customValues: qTicks, margin: 17, formatter: (v: number) => v.toFixed(1) },
          splitLine: { show: false },
        },
      ],
      series: [
        ...silhouetteSeries,
        {
          type: "line",
          xAxisIndex: 0,
          yAxisIndex: 0,
          data: [[meanSilhouette, 0], [meanSilhouette, 340]],
          symbol: "none",
          z: 5,
          lineStyle: { color: "#e8373d", width: 2, type: [9, 5] },
          silent: true,
        },
        scatter(toDate(dateCluster0), "#000000", 1),
        scatter(toDate(dateCluster1), clusterColors[1], 1),
        scatter(toDate(dateCluster3), clusterColors[3], 1),
        scatter(toDate(dateCluster2), clusterColors[2], 1),
        scatter(toTemp(tempCluster3), clusterColors[3], 2),
        scatter(toTemp(tempCluster1), clusterColors[1], 2),
        scatter(toTemp(tempCluster0), "#000000", 2),
        scatter(toTemp(tempCluster2), clusterColors[2], 2),
      ],
      graphic: [
        { type: "text", left: 78, top: 6, style: { text: "(a)", ...label, fill: TXT, fontSize: 20 } },
        { type: "text", left: 15, top: 481, style: { text: "(b)", ...label, fill: TXT, fontSize: 20 } },
        { type: "text", left: 8, top: 1007, style: { text: "(c)", ...label, fill: TXT, fontSize: 20 } },
        {
          type: "text", x: 176, y: 160, rotation: Math.PI / 2,
          style: { text: "Cluster", fill: TXT, fontFamily: FONT, fontSize: 20, align: "center", verticalAlign: "middle" },
        },
        {
          type: "text", x: 47, y: 693, rotation: Math.PI / 2,
          style: { text: "Daily water consumption q\n[m³/(capita.day)]", fill: TXT, fontFamily: FONT, fontSize: 20, lineHeight: 29, align: "center", verticalAlign: "middle" },
        },
        {
          type: "text", x: 47, y: 1221, rotation: Math.PI / 2,
          style: { text: "Daily water consumption q\n[m³/(capita.day)]", fill: TXT, fontFamily: FONT, fontSize: 20, lineHeight: 29, align: "center", verticalAlign: "middle" },
        },
      ],
    };
    chart.setOption(option);
    return () => chart.dispose();
  }, []);
  return <div ref={ref} style={{ position: "absolute", left: 0, top: 0, width: 763, height: 1527 }} />;
}
